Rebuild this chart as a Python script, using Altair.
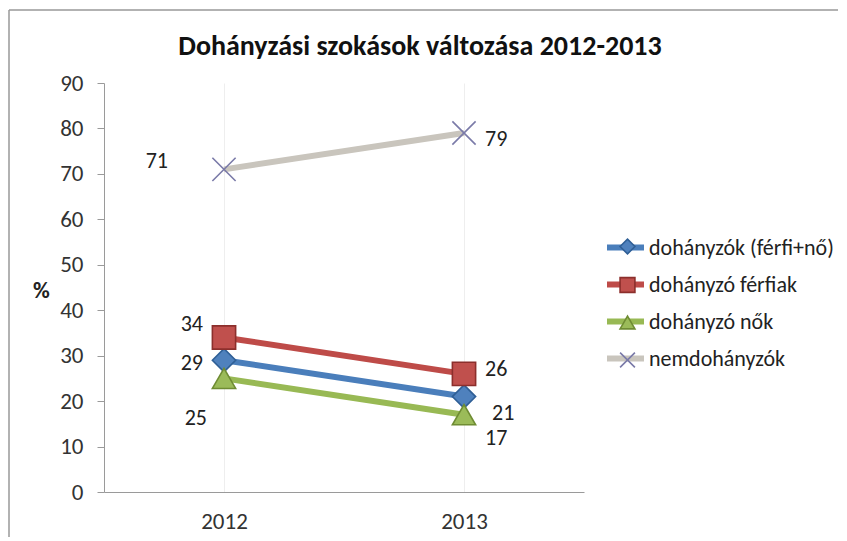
import altair as alt
import pandas as pd

years = ["2012", "2013"]
series = ["dohányzók (férfi+nő)", "dohányzó férfiak", "dohányzó nők", "nemdohányzók"]
val_osszes = [29, 21]
val_ferfi = [34, 26]
val_no = [25, 17]
val_nem = [71, 79]
y_ticks = [0, 10, 20, 30, 40, 50, 60, 70, 80, 90]
title_text = "Dohányzási szokások változása 2012-2013"

line_colors = ["#4a7ebb", "#be4b48", "#98b954", "#c9c5bd"]
fill_colors = ["#4f81bd", "#c0504d", "#9bbb59", "#8a8ab8"]
edge_colors = ["#2f5f96", "#8c2f2c", "#6f8c33", "#7a7aa8"]
shape_range = ["diamond", "square", "triangle-up",
               "M-1,-1L1,1M-1,1L1,-1"]

rows = []
for s, vals in zip(series, [val_osszes, val_ferfi, val_no, val_nem]):
    for yr, v in zip(years, vals):
        rows.append({"series": s, "year": yr, "value": v})
df = pd.DataFrame(rows)

FONT = "Carlito, Lato"
FS = 23

x_enc = alt.X("year:O", scale=alt.Scale(type="point", padding=0.5),
              axis=alt.Axis(title=None, labelAngle=0, ticks=False, grid=True,
                            gridColor="#eeeeee", domainColor="#9a9a9a",
                            labelFontSize=FS, labelColor="#333333",
                            labelPadding=18, labelFont=FONT))
y_enc = alt.Y("value:Q", scale=alt.Scale(domain=[0, 90], nice=False),
              axis=alt.Axis(values=y_ticks, grid=False, tickSize=7,
                            tickColor="#9a9a9a", domainColor="#9a9a9a",
                            labelFontSize=FS, labelColor="#333333",
                            labelPadding=14, labelFont=FONT,
                            title="%", titleAngle=0, titleFontSize=23,
                            titleFontWeight="bold", titleColor="#222222",
                            titleX=-63, titleY=207, titleAlign="center",
                            titleBaseline="middle", titleFont=FONT))

base = alt.Chart(df)

lines = base.mark_line(strokeWidth=6).encode(
    x=x_enc, y=y_enc,
    color=alt.Color("series:N", sort=series,
                    scale=alt.Scale(domain=series, range=line_colors),
                    legend=alt.Legend(title=None, orient="none", legendX=500,
                                      legendY=143, symbolType="stroke",
                                      symbolStrokeWidth=6, symbolSize=1369,
                                      labelFontSize=22, labelColor="#222222",
                                      labelFont=FONT, labelOffset=2,
                                      labelLimit=400,
                                      rowPadding=3, padding=0)),
    detail="series:N",
)

mk_legend = alt.Legend(title=None, orient="none", legendX=515, legendY=155,
                       symbolSize=220, symbolStrokeWidth=1.6,
                       labelFontSize=10, labelColor="transparent",
                       labelFont=FONT, rowPadding=15.5, padding=0)

points = base.mark_point(filled=True, size=540, strokeWidth=1.6, opacity=1).encode(
    x=x_enc, y=y_enc,
    fill=alt.Fill("series:N", sort=series,
                  scale=alt.Scale(domain=series, range=fill_colors),
                  legend=mk_legend),
    stroke=alt.Stroke("series:N", sort=series,
                      scale=alt.Scale(domain=series, range=edge_colors),
                      legend=mk_legend),
    shape=alt.Shape("series:N", sort=series,
                    scale=alt.Scale(domain=series, range=shape_range),
                    legend=mk_legend),
)

label_style = {
    (series[3], "2012"): ("right", -56, -8),
    (series[1], "2012"): ("right", -21, -13),
    (series[0], "2012"): ("right", -21, 3),
    (series[2], "2012"): ("right", -17, 40),
    (series[3], "2013"): ("left", 21, 6),
    (series[1], "2013"): ("left", 21, -5),
    (series[0], "2013"): ("left", 28, 16),
    (series[2], "2013"): ("left", 21, 23),
}

label_layers = []
for (s, yr), (al, dx, dy) in label_style.items():
    label_layers.append(
        base.transform_filter(
            (alt.datum.series == s) & (alt.datum.year == yr)
        ).mark_text(align=al, baseline="middle", dx=dx, dy=dy, fontSize=22,
                    font=FONT, color="#222222").encode(
            x=x_enc, y=y_enc, text="value:Q")
    )

title_layer = alt.Chart(pd.DataFrame({"t": [title_text]})).mark_text(
    fontSize=28, fontWeight="bold", font=FONT, color="#111111",
    align="center", baseline="alphabetic").encode(
    x=alt.value(316), y=alt.value(-28), text="t:N")

frame_df = pd.DataFrame({"f": [0]})
frame_top = alt.Chart(frame_df).mark_rule(color="#999999", strokeWidth=1.5).encode(
    x=alt.value(-95), x2=alt.value(734), y=alt.value(-73), y2=alt.value(-73))
frame_left = alt.Chart(frame_df).mark_rule(color="#999999", strokeWidth=1.5).encode(
    x=alt.value(-95), x2=alt.value(-95), y=alt.value(-73), y2=alt.value(455))

chart = alt.layer(frame_top, frame_left, title_layer, lines, points,
                  *label_layers).properties(
    width=480, height=409,
    padding={"left": 96, "top": 75, "right": 255, "bottom": 45},
    autosize=alt.AutoSizeParams(type="none"),
).resolve_scale(fill="independent", stroke="independent", shape="independent",
                color="independent").configure_view(stroke=None)

chart.save("out.html", embed_options={"renderer": "svg", "actions": False})
